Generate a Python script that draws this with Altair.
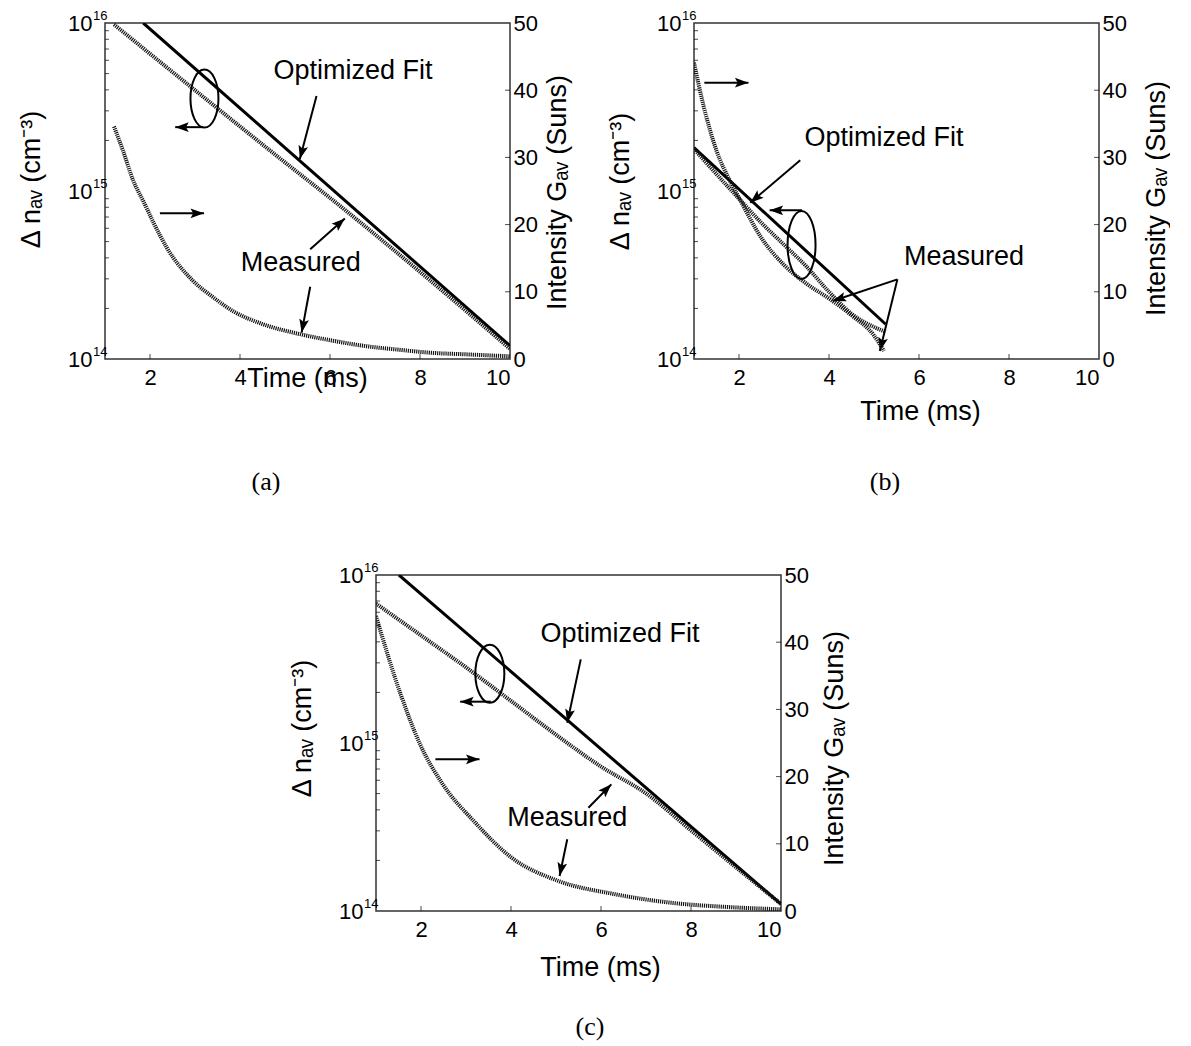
import math
import altair as alt
import pandas as pd

W, H = 405, 336
XDOM = [1, 10]
YDOM = [1e14, 1e16]
GDOM = [0, 50]
FONT = "Liberation Sans"

# ---------------- panel (a) ----------------
a_fit_t = [1.85, 10.0]
a_fit_n = [1.0e16, 1.2e14]
a_meas_t = [1.2, 3.0, 5.0, 6.0, 8.0, 10.0]
a_meas_n = [9.8e15, 3.98e15, 1.48e15, 9.1e14, 3.3e14, 1.15e14]
a_int_t = [1.2, 1.4, 1.63, 1.85, 2.1, 2.37, 2.96, 3.4, 3.85, 4.5, 5.33, 6.0, 6.81, 7.5, 8.3, 9.0, 10.0]
a_int_g = [34.6, 31, 26.5, 23.5, 20, 16.6, 11.6, 9.2, 7.1, 5.2, 3.7, 2.8, 1.9, 1.4, 0.9, 0.7, 0.4]
a_lab = ["Optimized Fit", "Measured"]
a_lab_t = [6.51, 5.35]
a_lab_e = [15.714, 14.573]
a_arr_t1 = [5.70, 2.22, 5.56, 5.56, 3.18]
a_arr_e1 = [15.565, 14.867, 14.653, 14.43, 15.38]
a_arr_t2 = [5.33, 3.20, 6.33, 5.37, 2.56]
a_arr_e2 = [15.19, 14.867, 14.837, 14.157, 15.38]
a_ell = [3.21, 15.55, 28, 58]

# ---------------- panel (b) ----------------
b_fit_t = [1.0, 5.26]
b_fit_n = [1.81e15, 1.61e14]
b_meas_t = [1.0, 1.5, 2.0, 2.5, 3.0, 3.5, 4.0, 4.5, 5.0, 5.26]
b_meas_n = [1.78e15, 1.26e15, 9.0e14, 6.46e14, 4.79e14, 3.55e14, 2.51e14, 1.86e14, 1.55e14, 1.45e14]
b_int_t = [1.0, 1.2, 1.5, 1.8, 2.0, 2.5, 3.0, 3.5, 4.0, 4.5, 5.0, 5.22]
b_int_g = [44.1, 38, 31, 26.5, 24, 18, 14, 11.2, 9, 6.5, 3.5, 1.2]
b_lab = ["Optimized Fit", "Measured"]
b_lab_t = [5.22, 7.0]
b_lab_e = [15.317, 14.607]
b_arr_t1 = [1.23, 3.36, 3.40, 5.52, 5.52]
b_arr_e1 = [15.645, 15.183, 14.885, 14.474, 14.474]
b_arr_t2 = [2.21, 2.25, 2.68, 4.08, 5.13]
b_arr_e2 = [15.645, 14.93, 14.885, 14.345, 14.048]
b_ell = [3.39, 14.679, 28, 68]

# ---------------- panel (c) ----------------
c_fit_t = [1.51, 10.0]
c_fit_n = [1.0e16, 1.1e14]
c_meas_t = [1, 2, 3, 4, 5, 6, 7, 8, 9, 10]
c_meas_n = [6.76e15, 4.37e15, 2.82e15, 1.78e15, 1.12e15, 7.24e14, 5.01e14, 3.02e14, 1.82e14, 1.10e14]
c_int_t = [1.0, 1.55, 1.98, 2.49, 3.17, 4.02, 5.04, 6.31, 7.59, 8.8, 10.0]
c_int_g = [43.9, 32.2, 24.8, 18.8, 13.4, 7.9, 4.5, 2.5, 1.2, 0.6, 0.25]
c_lab = ["Optimized Fit", "Measured"]
c_lab_t = [6.42, 5.25]
c_lab_e = [15.647, 14.551]
c_arr_t1 = [5.55, 2.32, 3.55, 5.72, 5.25]
c_arr_e1 = [15.498, 14.903, 15.246, 14.615, 14.427]
c_arr_t2 = [5.25, 3.30, 2.87, 6.23, 5.08]
c_arr_e2 = [15.121, 14.903, 15.246, 14.754, 14.208]
c_ell = [3.53, 15.412, 29, 58]

# axis tick values
x_ticks = [2, 4, 6, 8, 10]
x_inner_ticks = [2, 4, 6, 8]
y_major = [1e14, 1e15, 1e16]
y_exp = ["14", "15", "16"]
y_minor = [2e14, 3e14, 4e14, 5e14, 6e14, 7e14, 8e14, 9e14,
           2e15, 3e15, 4e15, 5e15, 6e15, 7e15, 8e15, 9e15]
g_ticks = [0, 10, 20, 30, 40, 50]
g_inner_ticks = [10, 20, 30, 40]

ARROW = "M0,0 L0.36,1 L0,0.8 L-0.36,1 Z"
DOT = "#151515"


def ellipse_path(w, h):
    rx = w / h
    k = 0.5523
    return (f"M{rx},0 C{rx},{k} {k*rx},1 0,1 C{-k*rx},1 {-rx},{k} {-rx},0 "
            f"C{-rx},{-k} {-k*rx},-1 0,-1 C{k*rx},-1 {rx},{-k} {rx},0 Z")


def panel(fit_t, fit_n, meas_t, meas_n, int_t, int_g, lab, lab_t, lab_e,
          t1, e1, t2, e2, ell, caption, cap_xy, xt, lt, rt):
    xs = alt.Scale(domain=XDOM, nice=False, zero=False)
    ys = alt.Scale(type="log", domain=YDOM, nice=False)
    gs = alt.Scale(domain=GDOM, nice=False, zero=False)

    xa = alt.Axis(values=x_ticks, format="d", title="Time (ms)", ticks=False,
                  domain=False, grid=False, labelFontSize=22, labelPadding=8,
                  titleFontSize=27, titleFontWeight="normal", titleX=xt[0],
                  titleY=xt[1], titleBaseline="middle", titleAlign="center")
    ya = alt.Axis(values=y_major, labelExpr="'10'", title="Δ nₐᵥ (cm⁻³)",
                  ticks=False, domain=False, grid=False, labelFontSize=22,
                  labelPadding=13, titleFontSize=27, titleFontWeight="normal",
                  titleX=lt[0], titleY=lt[1], titleAngle=270,
                  titleAlign="center", titleBaseline="middle")
    ga = alt.Axis(values=g_ticks, orient="right", title="Intensity Gₐᵥ (Suns)",
                  ticks=False, domain=False, grid=False, labelFontSize=22,
                  labelPadding=3, titleFontSize=27, titleFontWeight="normal",
                  titleX=rt[0], titleY=rt[1], titleAngle=270,
                  titleAlign="center", titleBaseline="middle")

    def X(f):
        return alt.X(f, scale=xs, axis=xa)

    def Y(f):
        return alt.Y(f, scale=ys, axis=ya)

    def G(f):
        return alt.Y(f, scale=gs, axis=ga)

    fit_df = pd.DataFrame({"t": fit_t, "n": fit_n})
    meas_df = pd.DataFrame({"t": meas_t, "n": meas_n})
    int_df = pd.DataFrame({"t": int_t, "g": int_g})

    fit = alt.Chart(fit_df).mark_line(color="black", strokeWidth=3, clip=True).encode(
        x=X("t:Q"), y=Y("n:Q"))
    meas = alt.Chart(meas_df).mark_line(color=DOT, strokeWidth=4, interpolate="monotone",
                                        strokeDash=[1.2, 0.9], clip=True).encode(
        x=X("t:Q"), y=Y("n:Q"))

    lab_df = pd.DataFrame({"s": lab, "t": lab_t, "n": [10 ** e for e in lab_e]})
    labels = alt.Chart(lab_df).mark_text(font=FONT, fontSize=27, color="black",
                                         align="center", baseline="middle").encode(
        x=X("t:Q"), y=Y("n:Q"), text="s:N")

    angs = []
    for a, b, c, d in zip(t1, e1, t2, e2):
        dx = (c - a) * W / (XDOM[1] - XDOM[0])
        dy = (d - b) * H / 2.0
        angs.append(math.degrees(math.atan2(dx, dy)) % 360)
    arr_df = pd.DataFrame({"t": t1, "n": [10 ** e for e in e1],
                           "t2": t2, "n2": [10 ** e for e in e2], "ang": angs})
    shafts = alt.Chart(arr_df).mark_rule(color="black", strokeWidth=2).encode(
        x=X("t:Q"), y=Y("n:Q"), x2="t2:Q", y2="n2:Q")
    heads = alt.Chart(arr_df).mark_point(shape=ARROW, filled=True, size=730,
                                         color="black", opacity=1, strokeWidth=0).encode(
        x=X("t2:Q"), y=Y("n2:Q"), angle=alt.Angle("ang:Q", scale=None))

    ell_df = pd.DataFrame({"t": [ell[0]], "n": [10 ** ell[1]]})
    ellipse = alt.Chart(ell_df).mark_point(shape=ellipse_path(ell[2], ell[3]),
                                           filled=False, size=ell[3] ** 2,
                                           color="black", opacity=1,
                                           strokeWidth=2).encode(
        x=X("t:Q"), y=Y("n:Q"))

    sup_df = pd.DataFrame({"n": y_major, "s": y_exp})
    sups = alt.Chart(sup_df).mark_text(font=FONT, fontSize=13, color="black",
                                       align="left", baseline="middle", dy=-7.5).encode(
        x=alt.value(-12), y=Y("n:Q"), text="s:N")

    minor_df = pd.DataFrame({"n": y_minor})
    yminor = alt.Chart(minor_df).mark_tick(orient="horizontal", color="black",
                                           size=4, thickness=1).encode(
        x=alt.value(2), y=Y("n:Q"))
    xt_df = pd.DataFrame({"t": x_inner_ticks})
    xtick = alt.Chart(xt_df).mark_tick(orient="vertical", color="black",
                                       size=5, thickness=1).encode(
        x=X("t:Q"), y=alt.value(H - 2.5))

    cap_df = pd.DataFrame({"c": [caption]})
    cap = alt.Chart(cap_df).mark_text(font="Liberation Serif", fontSize=26,
                                      color="black", align="center",
                                      baseline="middle").encode(
        x=alt.value(cap_xy[0]), y=alt.value(cap_xy[1]), text="c:N")

    left = alt.layer(fit, meas, labels, shafts, heads, ellipse, sups, yminor,
                     xtick, cap)

    inten = alt.Chart(int_df).mark_line(color=DOT, strokeWidth=4, interpolate="monotone",
                                        strokeDash=[1.2, 0.9], clip=True).encode(
        x=X("t:Q"), y=G("g:Q"))
    gt_df = pd.DataFrame({"g": g_inner_ticks})
    gtick = alt.Chart(gt_df).mark_tick(orient="horizontal", color="black",
                                       size=5, thickness=1).encode(
        x=alt.value(W - 2.5), y=G("g:Q"))
    right = alt.layer(inten, gtick)

    return alt.layer(left, right).resolve_scale(y="independent").properties(
        width=W, height=H)


pa = panel(a_fit_t, a_fit_n, a_meas_t, a_meas_n, a_int_t, a_int_g, a_lab, a_lab_t,
           a_lab_e, a_arr_t1, a_arr_e1, a_arr_t2, a_arr_e2, a_ell, "(a)",
           (161, 459), (202, 19), (-74, 156), (47, 169))
pb = panel(b_fit_t, b_fit_n, b_meas_t, b_meas_n, b_int_t, b_int_g, b_lab, b_lab_t,
           b_lab_e, b_arr_t1, b_arr_e1, b_arr_t2, b_arr_e2, b_ell, "(b)",
           (191, 459), (226, 52), (-74, 158), (57, 175))
pc = panel(c_fit_t, c_fit_n, c_meas_t, c_meas_n, c_int_t, c_int_g, c_lab, c_lab_t,
           c_lab_e, c_arr_t1, c_arr_e1, c_arr_t2, c_arr_e2, c_ell, "(c)",
           (214, 452), (224, 56), (-74, 153), (53, 173))

spacer = alt.Chart(pd.DataFrame({"z": [0]})).mark_point(opacity=0).encode(
    x=alt.value(0), y=alt.value(0)).properties(
    width=1, height=H, view=alt.ViewBackground(strokeOpacity=0))

top = alt.hconcat(pa, pb, spacing=184, bounds="flush")
bottom = alt.hconcat(spacer, pc, spacing=270, bounds="flush")

chart = alt.vconcat(top, bottom, spacing=H + 216, bounds="flush").properties(
    padding={"left": 8, "top": 0, "right": 0, "bottom": 0},
    background="white"
).configure_view(stroke="#333333", strokeWidth=1.5).configure_axis(
    labelFont=FONT, titleFont=FONT, labelColor="black", titleColor="black")

chart.save("out.html", embed_options={"renderer": "svg", "actions": False})
